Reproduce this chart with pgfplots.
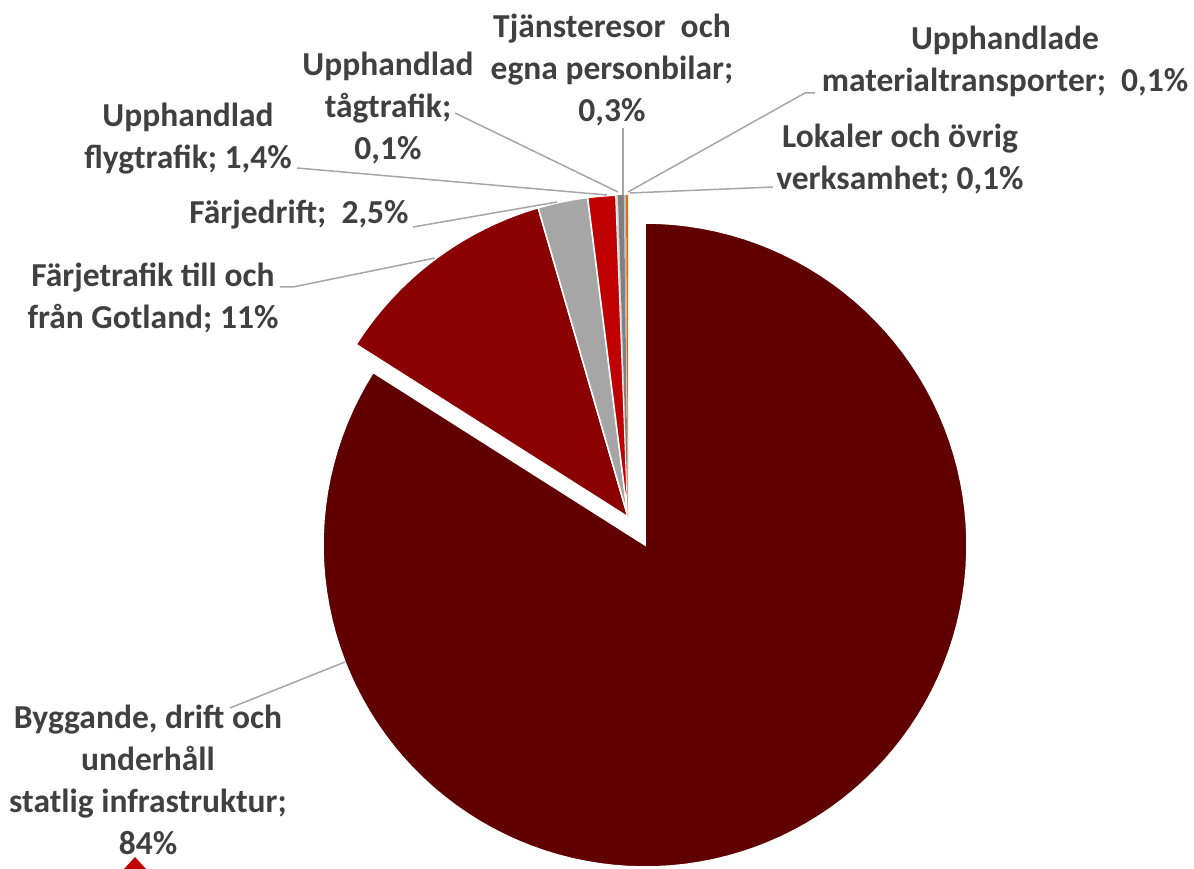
\documentclass[border=0pt]{standalone}
\usepackage{pgfplots}
\pgfplotsset{compat=1.18}
\usepackage{fontspec}
\setmainfont{Carlito}
\definecolor{bigc}{RGB}{96,0,0}
\definecolor{ferryc}{RGB}{139,0,0}
\definecolor{grayc}{RGB}{166,166,166}
\definecolor{flygc}{RGB}{192,0,0}
\definecolor{tagc}{RGB}{217,217,217}
\definecolor{tjc}{RGB}{128,128,128}
\definecolor{matc}{RGB}{191,191,191}
\definecolor{lokc}{RGB}{228,108,10}
\definecolor{txt}{RGB}{64,64,64}
\definecolor{lead}{RGB}{166,166,166}
\tikzset{lbl/.style={font=\bfseries\fontsize{13.4}{16.8}\selectfont, text=txt, align=center, inner sep=0pt}}
\begin{document}
\begin{tikzpicture}
\begin{axis}[
  scale only axis, width=477.6pt, height=347.6pt,
  xmin=0, xmax=1194, ymin=0, ymax=869,
  hide axis, clip=true,
]
\path (axis cs:0,0) rectangle (axis cs:1194,869);
% shares in percent (clockwise from 12 o'clock): 84, 11.5, 2.5, 1.4, 0.1, 0.3, 0.1, 0.1
% big slice (exploded), centre (645,324)
\addplot[fill=bigc, draw=white, line width=0.6pt, domain={90-3.6*84}:90, samples=120]
  ({645+322*cos(x)},{324+322*sin(x)}) -- (axis cs:645,324) -- cycle;
% other slices, centre (628,352)
\addplot[fill=ferryc, draw=white, line width=0.6pt, domain={90-3.6*(84+11.5)}:{90-3.6*84}, samples=30]
  ({628+322*cos(x)},{352+322*sin(x)}) -- (axis cs:628,352) -- cycle;
\addplot[fill=grayc, draw=white, line width=0.6pt, domain={90-3.6*(95.5+2.5)}:{90-3.6*95.5}, samples=8]
  ({628+322*cos(x)},{352+322*sin(x)}) -- (axis cs:628,352) -- cycle;
\addplot[fill=flygc, draw=white, line width=0.6pt, domain={90-3.6*(98+1.4)}:{90-3.6*98}, samples=6]
  ({628+322*cos(x)},{352+322*sin(x)}) -- (axis cs:628,352) -- cycle;
\addplot[fill=tagc, draw=none, domain={90-3.6*(99.4+0.1)}:{90-3.6*99.4}, samples=2]
  ({628+322*cos(x)},{352+322*sin(x)}) -- (axis cs:628,352) -- cycle;
\addplot[fill=tjc, draw=none, domain={90-3.6*(99.5+0.3)}:{90-3.6*99.5}, samples=2]
  ({628+322*cos(x)},{352+322*sin(x)}) -- (axis cs:628,352) -- cycle;
\addplot[fill=matc, draw=none, domain={90-3.6*(99.8+0.1)}:{90-3.6*99.8}, samples=2]
  ({628+322*cos(x)},{352+322*sin(x)}) -- (axis cs:628,352) -- cycle;
\addplot[fill=lokc, draw=none, domain={90-3.6*(99.9+0.1)}:{90-3.6*99.9}, samples=2]
  ({628+322*cos(x)},{352+322*sin(x)}) -- (axis cs:628,352) -- cycle;

% leader lines
\draw[lead, line width=0.6pt] (axis cs:623,741) -- (axis cs:623,674);
\draw[lead, line width=0.6pt] (axis cs:815,776) -- (axis cs:805,776) -- (axis cs:628,677);
\draw[lead, line width=0.6pt] (axis cs:773,682) -- (axis cs:630,676);
\draw[lead, line width=0.6pt] (axis cs:455,756) -- (axis cs:618,677);
\draw[lead, line width=0.6pt] (axis cs:297,701) -- (axis cs:607,674);
\draw[lead, line width=0.6pt] (axis cs:413,642) -- (axis cs:557,667);
\draw[lead, line width=0.6pt] (axis cs:280,582) -- (axis cs:293,582) -- (axis cs:435,611);
\draw[lead, line width=0.6pt] (axis cs:230,161) -- (axis cs:345,207);

% labels
\node[lbl] at (axis cs:612,799) {Tjänsteresor\ \ och\\egna personbilar;\\0,3\%};
\node[lbl] at (axis cs:1005,808) {Upphandlade\\materialtransporter;\ \ 0,1\%};
\node[lbl] at (axis cs:900,710) {Lokaler och övrig\\verksamhet; 0,1\%};
\node[lbl] at (axis cs:388,761) {Upphandlad\\tågtrafik;\\0,1\%};
\node[lbl] at (axis cs:188,730) {Upphandlad\\flygtrafik; 1,4\%};
\node[lbl] at (axis cs:299,654) {Färjedrift;\ \ 2,5\%};
\node[lbl] at (axis cs:153,571) {Färjetrafik till och\\från Gotland; 11\%};
\node[lbl] at (axis cs:148,89) {Byggande, drift och\\underhåll\\statlig infrastruktur;\\84\%};
\fill[flygc] (axis cs:124,0) -- (axis cs:135,12) -- (axis cs:146,0) -- cycle;
\end{axis}
\end{tikzpicture}
\end{document}
